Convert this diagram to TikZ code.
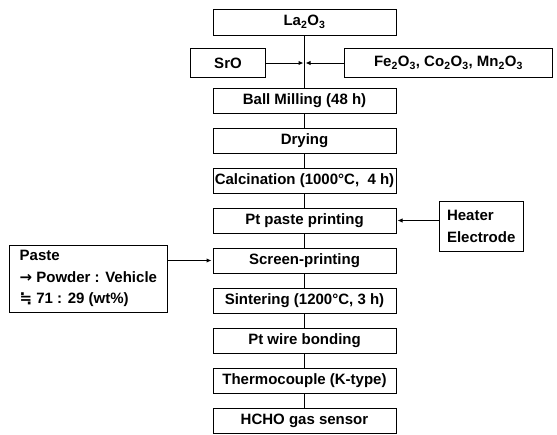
\documentclass[tikz,border=0pt]{standalone}
\usepackage{fontspec}
\setmainfont{Liberation Sans}
\newfontfamily\symbfont{DejaVu Sans}
\usetikzlibrary{positioning,arrows.meta}
\tikzstyle{block} = [rectangle, draw, line width=1pt,
    minimum width=183pt, minimum height=25pt, inner sep=1pt]
\tikzstyle{source} = [rectangle, draw, line width=1pt,
    minimum height=29pt, inner sep=1pt]
\tikzstyle{note} = [rectangle, draw, line width=1pt,
    align=left, inner ysep=4pt]
\tikzstyle{link} = [draw, line width=1pt]
\tikzstyle{line} = [draw, line width=1pt, -{Latex[length=5pt, width=4.5pt]}, shorten >=1pt]

\begin{document}
\begin{tikzpicture}[x=1pt, y=-1pt, font=\fontsize{15}{21.5}\selectfont\bfseries]
    \useasboundingbox (0,0) rectangle (557,434);
    % Place nodes
    \node [block, minimum height=26pt] (la) at (304.5,22) {La\textsubscript{2}O\textsubscript{3}};
    \node [block, below=52pt of la] (ball) {Ball Milling (48 h)};
    \node [block, below=14pt of ball] (dry) {Drying};
    \node [block, below=14pt of dry] (calc) {Calcination (1000\textdegree C,\ \ 4 h)};
    \node [block, below=14pt of calc] (pt) {Pt paste printing};
    \node [block, below=14pt of pt] (screen) {Screen-printing};
    \node [block, below=14pt of screen] (sinter) {Sintering (1200\textdegree C, 3 h)};
    \node [block, below=14pt of sinter] (wire) {Pt wire bonding};
    \node [block, below=14pt of wire] (thermo) {Thermocouple (K-type)};
    \node [block, below=14pt of thermo] (sensor) {HCHO gas sensor};

    \coordinate (mix) at (304.5,63);
    \node [source, minimum width=75pt, left=38.5pt of mix] (sro) {SrO};
    \node [source, minimum width=208pt, right=39.5pt of mix] (oxide)
        {Fe\textsubscript{2}O\textsubscript{3}, Co\textsubscript{2}O\textsubscript{3}, Mn\textsubscript{2}O\textsubscript{3}};
    \node [note, inner xsep=8pt, minimum height=50pt, minimum width=84pt,
        right=42pt of pt, yshift=-6pt] (heater) {Heater\\Electrode};
    \node [note, inner xsep=10pt, minimum height=67pt, minimum width=156pt,
        anchor=north east] (paste) at ([xshift=-45pt, yshift=3pt]screen.north west)
        {Paste\\{\symbfont →} Powder : Vehicle\\{\symbfont ≒} 71 : 29 (wt\%)};

    % Draw edges
    \path [link] (la) -- (ball);
    \path [line] (sro) -- (mix);
    \path [line] (oxide) -- (mix);
    \path [link] (ball) -- (dry);
    \path [link] (dry) -- (calc);
    \path [link] (calc) -- (pt);
    \path [link] (pt) -- (screen);
    \path [link] (screen) -- (sinter);
    \path [link] (sinter) -- (wire);
    \path [link] (wire) -- (thermo);
    \path [link] (thermo) -- (sensor);
    \path [line] (heater.west |- pt) -- (pt);
    \path [line] (paste.east |- screen) -- (screen);
\end{tikzpicture}
\end{document}
